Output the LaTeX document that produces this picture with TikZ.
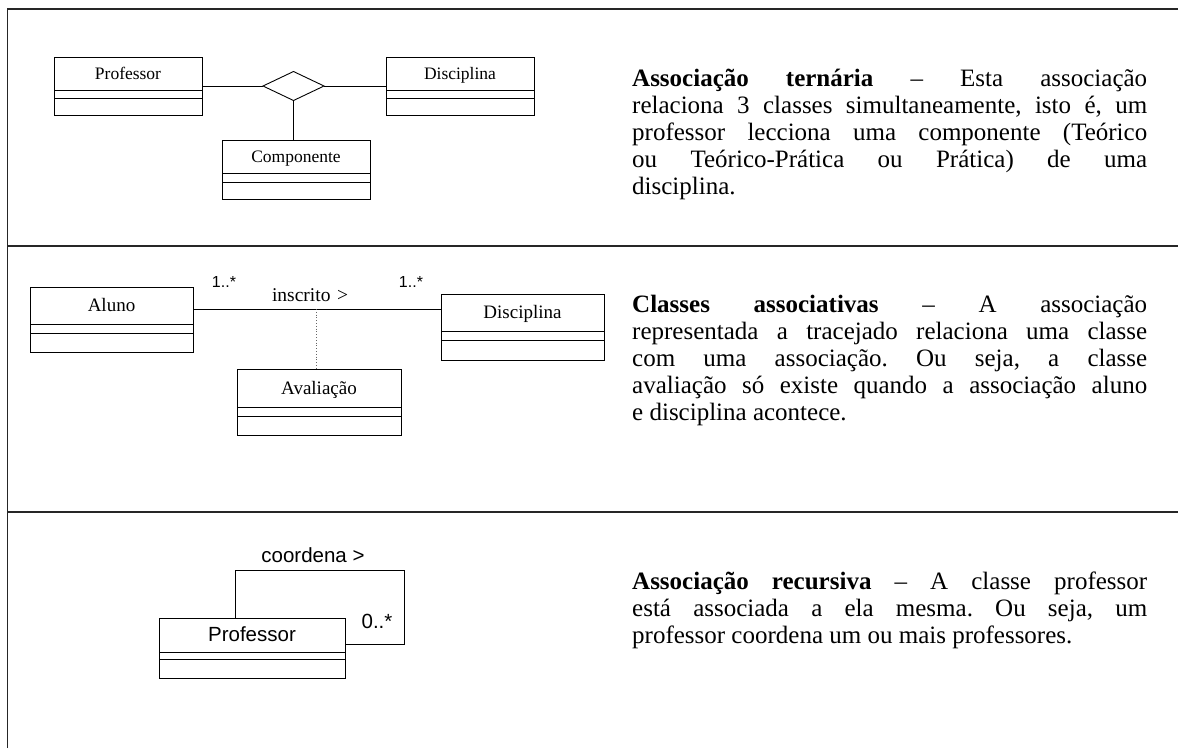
\documentclass[tikz,border=0pt]{standalone}
\usepackage{fontspec}
\setmainfont{Liberation Serif}
\newfontfamily\umlsans{Liberation Sans}
\usetikzlibrary{shapes.geometric}
\frenchspacing

% class box: name, left, top, right, first rule, second rule, bottom, font, label
\newcommand\umlclass[9]{%
  \node[classbox, minimum width={(#4-#2)*1pt}, minimum height={(#7-#3)*1pt}] (#1) at (#2,#3) {};
  \draw[boxline] (#2,#5) -- (#4,#5) (#2,#6) -- (#4,#6);
  \node[anchor=base, inner sep=0pt, font=#8] (#1-name) at ({(#2+#4)/2},{(#3+#5)/2+6}) {#9};
}
% one line of the descriptions, justified or ragged
\newcommand\jline[3]{\node[bodyline] (#1) at (632,#2) {\makebox[515pt][s]{#3}};}
\newcommand\lline[3]{\node[bodyline] (#1) at (632,#2) {#3};}

\begin{document}
\begin{tikzpicture}[x=1pt,y=-1pt,
  frameline/.style={line width=1.6pt, black!85},
  boxline/.style={line width=0.9pt},
  classbox/.style={draw, line width=0.9pt, rectangle, inner sep=0pt, outer sep=0pt, anchor=north west},
  assoc/.style={line width=0.9pt},
  bodyline/.style={anchor=base west, inner sep=0pt, font=\fontsize{25}{27}\selectfont},
  mult/.style={inner sep=0pt, font=\umlsans\fontsize{16}{18}\selectfont},
  rolename/.style={inner sep=0pt}
]
\useasboundingbox (0,0) rectangle (1178,748);

% frame and separators
\draw[frameline] (7.5,748) -- (7.5,9) -- (1178,9);
\draw[frameline] (7.5,246) -- (1178,246);
\draw[frameline] (7.5,512) -- (1178,512);

% ---- ternary association
\umlclass{prof1}{54}{57}{202}{90}{98}{115}{\fontsize{17.5}{19}\selectfont}{Professor}
\umlclass{disc1}{386}{57}{534}{90}{98}{115}{\fontsize{17.5}{19}\selectfont}{Disciplina}
\umlclass{comp}{222}{140}{370}{173}{182}{199}{\fontsize{17.5}{19}\selectfont}{Componente}
\node[draw, diamond, line width=0.9pt, inner sep=0pt, outer sep=0pt,
      minimum width=61pt, minimum height=29pt] (tern) at (293.5,86) {};
\draw[assoc] (prof1.east) -- (tern.west);
\draw[assoc] (tern.east) -- (disc1.west);
\draw[assoc] (tern.south) -- (tern.south |- comp.north);

% ---- association class
\umlclass{aluno}{30}{287}{193}{324}{333}{352}{\fontsize{19}{21}\selectfont}{Aluno}
\umlclass{disc2}{441}{294}{604}{331}{340}{360}{\fontsize{19}{21}\selectfont}{Disciplina}
\umlclass{aval}{237}{369}{401}{407}{416}{435}{\fontsize{19}{21}\selectfont}{Avaliação}
\coordinate (insc) at (316,309);
\draw[assoc] (aluno.east |- insc) -- (disc2.west |- insc);
\draw[dotted, line width=0.8pt, black!60] (insc) -- (insc |- aval.north);
\node[mult] (mA) at (224,282) {1..*};
\node[mult] (mD) at (411,282) {1..*};
\node[rolename, font=\fontsize{19.5}{21}\selectfont] (insclabel) at (310,295) {inscrito\,\,>};

% ---- recursive association
\umlclass{prof3}{159}{618}{345}{652}{659}{678}{\umlsans\fontsize{20.5}{22}\selectfont}{Professor}
\coordinate (loopTL) at (235,570);
\coordinate (loopBR) at (404,644);
\draw[assoc] (loopTL |- prof3.north) -- (loopTL) -| (loopBR) -- (loopBR -| prof3.east);
\node[rolename, font=\umlsans\fontsize{20.5}{22}\selectfont] (coordlabel) at (313,555) {coordena >};
\node[rolename, font=\umlsans\fontsize{20.5}{22}\selectfont] (mP) at (377,621) {0..*};

% ---- descriptions
\jline{s1a}{86}{\textbf{Associação ternária} – Esta associação}
\jline{s1b}{113}{relaciona 3 classes simultaneamente, isto é, um}
\jline{s1c}{140}{professor lecciona uma componente (Teórico}
\jline{s1d}{167}{ou Teórico-Prática ou Prática) de uma}
\lline{s1e}{194}{disciplina.}

\jline{s2a}{312}{\textbf{Classes associativas} – A associação}
\jline{s2b}{339}{representada a tracejado relaciona uma classe}
\jline{s2c}{366}{com uma associação. Ou seja, a classe}
\jline{s2d}{393}{avaliação só existe quando a associação aluno}
\lline{s2e}{420}{e disciplina acontece.}

\jline{s3a}{589}{\textbf{Associação recursiva} – A classe professor}
\jline{s3b}{616}{está associada a ela mesma. Ou seja, um}
\lline{s3c}{643}{professor coordena um ou mais professores.}
\end{tikzpicture}
\end{document}
